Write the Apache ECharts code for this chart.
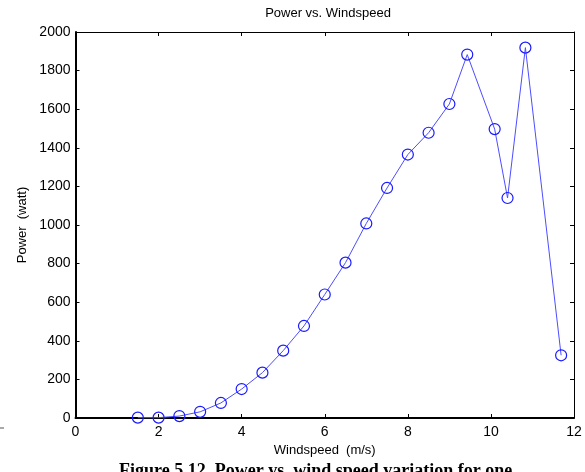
<!DOCTYPE html>
<html>
<head>
<meta charset="utf-8">
<script src="https://cdn.jsdelivr.net/npm/echarts@6/dist/echarts.min.js"></script>
<style>
  html, body { margin: 0; padding: 0; background: #fff; }
  #chart { width: 585px; height: 472px; }
</style>
</head>
<body>
<div id="chart"></div>
<script>
// Wind speed (m/s) and measured power (watt)
const windSpeed = [1.5, 2, 2.5, 3, 3.5, 4, 4.5, 5, 5.5, 6, 6.5, 7, 7.5, 8, 8.5, 9, 9.43, 10.09, 10.4, 10.83, 11.69];
const power = [2, 2, 10, 32, 78, 150, 235, 349, 477, 640, 805, 1008, 1192, 1365, 1478, 1627, 1883, 1497, 1140, 1919, 325];

const xTicks = [0, 2, 4, 6, 8, 10, 12];
const yTicks = [0, 200, 400, 600, 800, 1000, 1200, 1400, 1600, 1800, 2000];

const titleText = 'Power vs. Windspeed';
const xName = 'Windspeed  (m/s)';
const yName = 'Power  (watt)';
const captionText = 'Figure 5.12. Power vs. wind speed variation for one';

const font = 'Liberation Sans, Arial, Helvetica, sans-serif';

const chart = echarts.init(document.getElementById('chart'), null, { renderer: 'canvas' });

const points = windSpeed.map((x, i) => [x, power[i]]);

const xRange = {
  min: xTicks[0],
  max: xTicks[xTicks.length - 1],
  interval: xTicks[1] - xTicks[0]
};
const yRange = {
  min: yTicks[0],
  max: yTicks[yTicks.length - 1],
  interval: yTicks[1] - yTicks[0]
};

const plainNumber = v => String(v);

chart.setOption({
  animation: false,
  backgroundColor: '#ffffff',
  title: {
    text: titleText,
    left: 323,
    top: 2,
    textAlign: 'center',
    textStyle: { fontFamily: font, fontSize: 13, fontWeight: 'normal', color: '#000' }
  },
  grid: { left: 75.5, right: 11, top: 32, bottom: 54 },
  xAxis: [
    Object.assign({
      type: 'value',
      position: 'bottom',
      name: xName,
      nameLocation: 'middle',
      nameGap: 23,
      nameTextStyle: { fontFamily: font, fontSize: 13, color: '#000' },
      axisLine: { show: true, onZero: false, lineStyle: { color: '#000', width: 2 } },
      axisTick: { show: true, inside: true, length: 4, lineStyle: { color: '#000' } },
      axisLabel: { fontFamily: font, fontSize: 14, color: '#000', margin: 7, formatter: plainNumber },
      splitLine: { show: false }
    }, xRange),
    Object.assign({
      type: 'value',
      position: 'top',
      axisLine: { show: true, onZero: false, lineStyle: { color: '#000', width: 1 } },
      axisTick: { show: true, inside: true, length: 4, lineStyle: { color: '#000' } },
      axisLabel: { show: false },
      splitLine: { show: false }
    }, xRange)
  ],
  yAxis: [
    Object.assign({
      type: 'value',
      position: 'left',
      name: yName,
      nameLocation: 'middle',
      nameGap: 44,
      nameRotate: 90,
      nameTextStyle: { fontFamily: font, fontSize: 13, color: '#000' },
      axisLine: { show: true, onZero: false, lineStyle: { color: '#000', width: 2 } },
      axisTick: { show: true, inside: true, length: 4, lineStyle: { color: '#000' } },
      axisLabel: { fontFamily: font, fontSize: 14, color: '#000', margin: 5, formatter: plainNumber },
      splitLine: { show: false }
    }, yRange),
    Object.assign({
      type: 'value',
      position: 'right',
      axisLine: { show: true, onZero: false, lineStyle: { color: '#000', width: 1 } },
      axisTick: { show: true, inside: true, length: 4, lineStyle: { color: '#000' } },
      axisLabel: { show: false },
      splitLine: { show: false }
    }, yRange)
  ],
  series: [{
    type: 'line',
    data: points,
    xAxisIndex: 0,
    yAxisIndex: 0,
    clip: false,
    symbol: 'circle',
    symbolSize: 11,
    showAllSymbol: true,
    lineStyle: { color: '#4d4dff', width: 1 },
    itemStyle: { color: 'rgba(0,0,0,0)', borderColor: '#1a1aff', borderWidth: 1.2 },
    z: 3
  }],
  graphic: [
    {
      type: 'text',
      left: 119,
      top: 462,
      style: {
        text: captionText,
        fontFamily: 'Liberation Serif, Times New Roman, serif',
        fontSize: 18,
        fontWeight: 'bold',
        fill: '#000'
      }
    },
    {
      type: 'line',
      shape: { x1: 0, y1: 428, x2: 4, y2: 428 },
      style: { stroke: '#555', lineWidth: 1 }
    }
  ]
});
</script>
</body>
</html>
